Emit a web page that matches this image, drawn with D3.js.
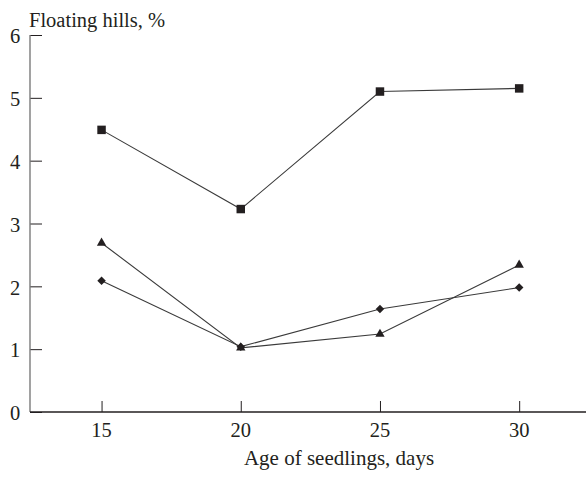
<!DOCTYPE html>
<html>
<head>
<meta charset="utf-8">
<script src="https://cdn.jsdelivr.net/npm/d3@7"></script>
<style>
  body { margin: 0; background: #fff; }
  svg text { font-family: "Liberation Serif", "Times New Roman", serif; fill: #231f20; }
</style>
</head>
<body>
<svg id="chart" width="586" height="480"></svg>
<script>
// Seedling age (days) on the x axis
const ages = [15, 20, 25, 30];
// Floating hills, % — one array per series
const squareSeries = [4.49, 3.23, 5.10, 5.15];
const triangleSeries = [2.69, 1.02, 1.24, 2.34];
const diamondSeries = [2.09, 1.04, 1.64, 1.98];
const xTicks = [15, 20, 25, 30];
const yTicks = [0, 1, 2, 3, 4, 5, 6];

const svg = d3.select("#chart");
const plotLeft = 30, plotTop = 35, plotBottom = 412, plotRight = 586;

const x = d3.scaleLinear().domain([12.43, 32.4]).range([plotLeft, plotRight]);
const y = d3.scaleLinear().domain([0, 6]).range([plotBottom, plotTop]);

const ink = "#231f20";

// y axis: ticks pointing into the plot
const yAxis = svg.append("g").attr("transform", `translate(${plotLeft},0)`)
  .call(d3.axisRight(y).tickValues(yTicks).tickSize(12).tickFormat(""));
yAxis.select(".domain").remove();
yAxis.selectAll(".tick line").attr("stroke", ink).attr("stroke-width", 1);
svg.append("line").attr("x1", plotLeft).attr("x2", plotLeft).attr("y1", y(6)).attr("y2", y(0))
  .attr("stroke", "#7a7a7a").attr("stroke-width", 1.4);
svg.selectAll(".ylab").data(yTicks).join("text")
  .attr("x", plotLeft - 15).attr("y", d => y(d) + 1).attr("dy", "0.35em")
  .attr("text-anchor", "middle").attr("font-size", 20.5).text(d => d);

// x axis: ticks pointing up
const xAxis = svg.append("g").attr("transform", `translate(0,${plotBottom})`)
  .call(d3.axisTop(x).tickValues(xTicks).tickSize(11).tickFormat(""));
xAxis.select(".domain").remove();
xAxis.selectAll(".tick line").attr("stroke", ink).attr("stroke-width", 1);
svg.append("line").attr("x1", plotLeft).attr("x2", plotRight).attr("y1", plotBottom).attr("y2", plotBottom)
  .attr("stroke", ink).attr("stroke-width", 1.3);
svg.selectAll(".xlab").data(xTicks).join("text")
  .attr("x", d => x(d)).attr("y", plotBottom + 25)
  .attr("text-anchor", "middle").attr("font-size", 20.5).text(d => d);

// axis titles
svg.append("text").attr("x", plotLeft - 1).attr("y", 27).attr("font-size", 20.5)
  .text("Floating hills, %");
svg.append("text").attr("x", 339).attr("y", 465).attr("text-anchor", "middle")
  .attr("font-size", 21).text("Age of seedlings, days");

const line = d3.line().x((d, i) => x(ages[i])).y(d => y(d));

const series = [
  { values: squareSeries, symbol: d3.symbolSquare, size: 72, rotate: 0 },
  { values: diamondSeries, symbol: d3.symbolSquare, size: 36, rotate: 45 },
  { values: triangleSeries, symbol: d3.symbolTriangle, size: 38, rotate: 0 }
];

series.forEach(s => {
  svg.append("path").datum(s.values).attr("d", line)
    .attr("fill", "none").attr("stroke", "#3a3a3a").attr("stroke-width", 1.1);
});
series.forEach(s => {
  svg.selectAll(null).data(s.values).join("path")
    .attr("transform", (d, i) => `translate(${x(ages[i])},${y(d)}) rotate(${s.rotate})`)
    .attr("d", d3.symbol().type(s.symbol).size(s.size))
    .attr("fill", ink);
});
</script>
</body>
</html>
